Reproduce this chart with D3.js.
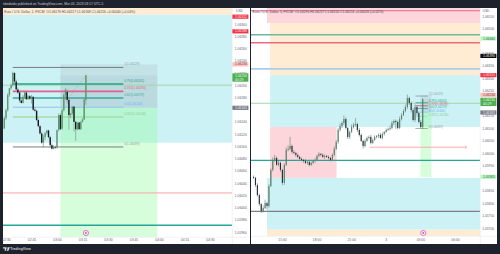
<!DOCTYPE html>
<html>
<head>
<meta charset="utf-8">
<script src="https://cdn.jsdelivr.net/npm/d3@7"></script>
<style>
  html, body { margin: 0; padding: 0; background: #1e222d; }
  svg { display: block; }
  text { font-family: "Liberation Sans", Arial, sans-serif; }
</style>
</head>
<body>
<svg id="chart" width="500" height="254"></svg>
<script>
// One-minute candles, EUR/USD
const minuteOpens = [1.06129,1.06146,1.06159,1.06184,1.06195,1.06200,1.06220,1.06206,1.06193,1.06188,1.06175,1.06171,1.06181,1.06188,1.06177,1.06182,1.06178,1.06181,1.06160,1.06158,1.06143,1.06133,1.06121,1.06106,1.06115,1.06122,1.06126,1.06115,1.06102,1.06096,1.06099,1.06098,1.06127,1.06151,1.06129,1.06159,1.06184,1.06189,1.06176,1.06151,1.06154,1.06165,1.06140,1.06128,1.06139,1.06128,1.06140,1.06144,1.06176];
const minuteHighs = [1.06149,1.06162,1.06187,1.06196,1.06203,1.06222,1.06221,1.06209,1.06196,1.06189,1.06177,1.06184,1.06189,1.06189,1.06184,1.06184,1.06184,1.06182,1.06164,1.06160,1.06146,1.06135,1.06124,1.06119,1.06124,1.06127,1.06127,1.06117,1.06105,1.06102,1.06101,1.06127,1.06154,1.06154,1.06162,1.06187,1.06195,1.06193,1.06178,1.06154,1.06166,1.06166,1.06142,1.06139,1.06140,1.06142,1.06146,1.06177,1.06217];
const minuteLows = [1.06129,1.06143,1.06157,1.06181,1.06192,1.06197,1.06203,1.06191,1.06186,1.06171,1.06170,1.06170,1.06178,1.06176,1.06176,1.06176,1.06170,1.06158,1.06157,1.06141,1.06131,1.06119,1.06104,1.06098,1.06110,1.06119,1.06113,1.06098,1.06095,1.06095,1.06096,1.06096,1.06124,1.06127,1.06127,1.06157,1.06176,1.06170,1.06127,1.06146,1.06151,1.06124,1.06109,1.06126,1.06127,1.06127,1.06139,1.06143,1.06168];
const minuteCloses = [1.06146,1.06159,1.06184,1.06195,1.06200,1.06220,1.06206,1.06193,1.06188,1.06175,1.06171,1.06181,1.06188,1.06177,1.06182,1.06178,1.06181,1.06160,1.06158,1.06143,1.06133,1.06121,1.06106,1.06115,1.06122,1.06126,1.06115,1.06102,1.06096,1.06099,1.06098,1.06127,1.06151,1.06128,1.06159,1.06184,1.06193,1.06176,1.06151,1.06154,1.06165,1.06140,1.06128,1.06139,1.06128,1.06140,1.06144,1.06177,1.06216];

// Intraday session closes with wick lengths in 0.00001 units
const sessionCloses = [1.05901,1.05872,1.05832,1.05796,1.05768,1.05780,1.05800,1.05788,1.05868,1.05933,
  1.05973,1.05981,1.05953,1.05961,1.05933,1.05881,1.05953,1.06013,1.06017,1.06029,
  1.06005,1.06001,1.05993,1.05985,1.05977,1.05973,1.05969,1.05961,1.05965,1.05953,
  1.05961,1.05969,1.05973,1.05989,1.05997,1.05993,1.05985,1.05989,1.05985,1.05981,
  1.05973,1.05993,1.06017,1.06045,1.06093,1.06109,1.06121,1.06137,1.06101,1.06065,
  1.06085,1.06105,1.06113,1.06117,1.06093,1.06073,1.06049,1.06029,1.06049,1.06061,
  1.06065,1.06041,1.06053,1.06065,1.06069,1.06073,1.06061,1.06077,1.06085,1.06093,
  1.06097,1.06101,1.06121,1.06129,1.06125,1.06101,1.06137,1.06153,1.06169,1.06185,
  1.06221,1.06201,1.06173,1.06133,1.06185,1.06161,1.06125,1.06105,1.06216];
const sessionFirstOpen = 1.05905;
const sessionUpperWicks = [6,4,8,6,4,10,14,6,8,6,10,12,6,8,6,4,6,10,14,36,6,8,4,6,4,6,4,8,4,6,6,4,8,6,8,4,6,6,4,6,4,6,10,8,8,10,6,14,6,4,6,10,8,24,6,8,6,4,8,6,6,8,6,6,4,6,8,6,4,6,6,10,8,6,6,6,10,8,6,10,14,6,6,8,10,6,6,8,4];
const sessionLowerWicks = [4,8,6,8,8,6,4,14,6,4,6,8,4,6,8,10,8,4,6,6,8,6,8,6,4,6,8,4,8,6,4,6,8,4,6,6,4,8,4,6,6,4,6,4,8,6,8,8,6,8,8,4,6,6,8,6,4,10,6,4,6,6,4,4,6,8,4,6,6,4,4,6,6,8,28,6,4,6,4,6,8,8,10,6,8,10,6,4,8];

// Fibonacci retracement
const fibRatios = ["1", "0.79", "0.705", "0.62", "0.5", "0.382", "0"];
const fibPrices = [1.06229, 1.06202, 1.06190, 1.06179, 1.06164, 1.06148, 1.06099];

// Horizontal levels per pane
const minuteLevels = [1.06200, 1.06024, 1.05971];
const sessionLevels = [1.06571, 1.06475, 1.06443, 1.06338, 1.06200, 1.05971, 1.05767];

// Axis ticks; labels sitting behind a price tag are left out
const minuteTicks = [1.06300,1.06280,1.06260,1.06240,1.06220,1.06200,1.06180,1.06140,1.06120,1.06100,1.06080,1.06060,1.06040,1.06020,1.06000,1.05980,1.05960];
const sessionTicks = [1.06550,1.06500,1.06400,1.06350,1.06300,1.06250,1.06150,1.06100,1.06050,1.06000,1.05950,1.05850,1.05800,1.05750,1.05700];
const minuteTimeTicks = ["02:30","02:45","03:00","03:15","03:30","03:45","04:00","04:15","04:30"];
const sessionTimeTicks = ["2023-03-02T15:00Z","2023-03-02T18:00Z","2023-03-02T21:00Z","2023-03-03T00:00Z","2023-03-03T03:00Z","2023-03-03T06:00Z"];

// Price tags on the axes
const minuteTags = [1.06312, 1.06288, 1.06234, 1.06163];
const sessionTags = [1.06460, 1.06390, 1.06313, 1.06234, 1.06163, 1.05905];
const lastClose = 1.06216;

const headerMinute = "Euro / U.S. Dollar, 1, FXCM  O1.06176 H1.06217 L1.06168 C1.06216 +0.00040 (+0.04%)";
const headerSession = "Euro / U.S. Dollar, 5, FXCM  O1.06190 H1.06217 L1.06150 C1.06216 +0.00026 (+0.02%)";
const publishLine = "tdotdotdo published on TradingView.com, Mar 03, 2023 03:17 UTC-5";

const svg = d3.select("#chart");
const DARK = "#1e222d", CYAN = "#cdf2f5", ORANGE = "#ffecd3", PINK = "#fcd6da";
const TEAL = "#26a69a", UP = "#5c9c6c", DOWN = "#131722", TICK = "#5f6370";

const day = s => new Date("2023-03-03T" + s + ":00Z");
const iso = s => new Date(s);
const fmt5 = d3.format(".5f");

const paneA = { x0: 3, x1: 232, axisEnd: 250, y0: 8, y1: 237, bottom: 244 };
const paneB = { x0: 251, x1: 480, axisEnd: 497, y0: 8, y1: 236, bottom: 244 };

const xA = d3.scaleUtc().domain([day("02:30"), day("04:30")]).range([6, 210]);
const yA = d3.scaleLinear().domain([1.0630, 1.0596]).range([24, 232]);
const xB = d3.scaleUtc().domain([iso("2023-03-02T15:00Z"), iso("2023-03-03T06:00Z")]).range([282, 455]);
const yB = d3.scaleLinear().domain([1.0655, 1.0570]).range([16, 228]);

svg.append("rect").attr("width", 500).attr("height", 254).attr("fill", DARK);

function buildPane(id, pane) {
  svg.append("rect").attr("x", pane.x0).attr("y", pane.y0)
    .attr("width", pane.axisEnd - pane.x0).attr("height", pane.bottom - pane.y0).attr("fill", "#fff");
  const clip = svg.append("clipPath").attr("id", id);
  clip.append("rect").attr("x", pane.x0).attr("y", pane.y0)
    .attr("width", pane.x1 - pane.x0).attr("height", pane.y1 - pane.y0);
  return svg.append("g").attr("clip-path", `url(#${id})`);
}
const plotA = buildPane("clipA", paneA);
const plotB = buildPane("clipB", paneB);

function band(g, pane, x, y, t0, t1, p0, p1, fill, opacity) {
  const left = t0 ? x(t0) : pane.x0;
  const right = t1 ? x(t1) : pane.x1;
  g.append("rect").attr("x", left).attr("width", right - left)
    .attr("y", y(p0)).attr("height", y(p1) - y(p0))
    .attr("fill", fill).attr("opacity", opacity === undefined ? 1 : opacity);
}

// Supply and demand zones
band(plotA, paneA, xA, yA, null, null, 1.06330, 1.06315, ORANGE);
band(plotA, paneA, xA, yA, null, null, 1.06315, 1.06106, CYAN);

const zoneStart = iso("2023-03-02T13:58Z"), zoneStartLow = iso("2023-03-02T13:42Z");
band(plotB, paneB, xB, yB, zoneStartLow, null, 1.06590, 1.06522, PINK);
band(plotB, paneB, xB, yB, zoneStart, null, 1.06522, 1.06313, ORANGE);
band(plotB, paneB, xB, yB, zoneStart, null, 1.06313, 1.06105, CYAN);
band(plotB, paneB, xB, yB, zoneStart, iso("2023-03-02T19:44Z"), 1.06105, 1.05901, PINK);
band(plotB, paneB, xB, yB, zoneStartLow, null, 1.05901, 1.05693, CYAN);
band(plotB, paneB, xB, yB, zoneStartLow, null, 1.05693, 1.05660, ORANGE);

// Position tool: profit area below the entry, shaded risk area above it
function positionBox(g, x, y, t0, t1) {
  band(g, null, x, y, t0, t1, 1.06163, 1.05905, "#8ffb9a", 0.36);
  band(g, null, x, y, t0, t1, 1.06234, 1.06163, "#787b86", 0.13);
  band(g, null, x, y, t0, t1, 1.06216, 1.06163, "#787b86", 0.08);
}
positionBox(plotA, xA, yA, day("03:02"), day("03:59"));
positionBox(plotB, xB, yB, day("03:00"), day("03:57"));

// Horizontal levels
const levelStylesA = [
  { c: "#a5d6a7", w: 1.0 }, { c: "#f9a8a8", w: 1.9, o: 0.6 }, { c: TEAL, w: 1.4 }
];
const levelStylesB = [
  { c: "#f0628e", w: 1.1 }, { c: "#6dbb9c", w: 1.6 }, { c: "#f0687f", w: 1.4 }, { c: "#a5cdec", w: 1.7 },
  { c: "#a5d6a7", w: 1.1 }, { c: TEAL, w: 1.2 }, { c: "#7e7f8a", w: 1.2 }
];
function drawLevels(g, pane, y, prices, styles) {
  g.selectAll(null).data(prices).join("line")
    .attr("x1", pane.x0).attr("x2", pane.x1)
    .attr("y1", d => y(d)).attr("y2", d => y(d))
    .attr("stroke", (d, i) => styles[i].c)
    .attr("stroke-width", (d, i) => styles[i].w)
    .attr("stroke-opacity", (d, i) => styles[i].o === undefined ? 1 : styles[i].o);
}
drawLevels(plotA, paneA, yA, minuteLevels, levelStylesA);
drawLevels(plotB, paneB, yB, sessionLevels, levelStylesB);

// Fibonacci lines and labels
const fibColors = ["#787b86", "#1fa584", "#e0608e", "#3aa89c", "#90c4ef", "#a8dca8", "#787b86"];
const fibWidths = [1.0, 1.4, 1.7, 1.3, 1.0, 1.4, 1.0];
const fibLabelColors = ["#9a9ca6", "#1f9c84", "#e05a80", "#3aa89c", "#64b5f6", "#8ccf90", "#9a9ca6"];
function drawFib(g, x, y, fontSize, width) {
  const t0 = day("02:34"), t1 = day("03:39");
  g.selectAll(null).data(fibPrices).join("line")
    .attr("x1", x(t0)).attr("x2", x(t1))
    .attr("y1", d => y(d)).attr("y2", d => y(d))
    .attr("stroke", (d, i) => fibColors[i])
    .attr("stroke-width", (d, i) => fibWidths[i] * width);
  g.selectAll(null).data(fibPrices).join("text")
    .attr("x", x(t1) + 0.9).attr("y", d => y(d) - (width < 1 ? 1.6 : 3))
    .attr("dy", "0.32em").attr("font-size", fontSize)
    .attr("fill", (d, i) => fibLabelColors[i])
    .text((d, i) => `${fibRatios[i]}(${fmt5(d)})`);
}
drawFib(plotA, xA, yA, 3.2, 1);
drawFib(plotB, xB, yB, 2.9, 0.6);

// Dotted trend from the retracement low to the last close
plotA.append("line")
  .attr("x1", xA(day("03:06"))).attr("y1", yA(1.06177))
  .attr("x2", xA(day("03:17"))).attr("y2", yA(1.06216))
  .attr("stroke", "#9598a1").attr("stroke-width", 0.6).attr("stroke-dasharray", "1 1");

// Forecast arrow on the session pane
const arrowY = yB(1.06024);
const arrowX0 = xB(iso("2023-03-02T22:36Z")), arrowX1 = xB(iso("2023-03-03T07:00Z"));
plotB.append("line").attr("x1", arrowX0).attr("x2", arrowX1)
  .attr("y1", arrowY).attr("y2", arrowY)
  .attr("stroke", "#f9a3a3").attr("stroke-width", 0.9);
plotB.append("path")
  .attr("d", d3.line()([[arrowX1 - 1.6, arrowY - 1.4], [arrowX1, arrowY], [arrowX1 - 1.6, arrowY + 1.4]]))
  .attr("fill", "none").attr("stroke", "#f9a3a3").attr("stroke-width", 0.8);

// Candles
function drawCandles(g, x, y, bars, bodyWidth, wickWidth, upColor, downColor, wickColor) {
  g.selectAll(null).data(bars).join("line")
    .attr("x1", d => x(d.t)).attr("x2", d => x(d.t))
    .attr("y1", d => y(d.h)).attr("y2", d => y(d.l))
    .attr("stroke", d => wickColor || (d.c >= d.o ? upColor : downColor))
    .attr("stroke-width", wickWidth);
  g.selectAll(null).data(bars).join("rect")
    .attr("x", d => x(d.t) - bodyWidth / 2).attr("width", bodyWidth)
    .attr("y", d => y(Math.max(d.o, d.c)))
    .attr("height", d => Math.max(0.6, Math.abs(y(d.o) - y(d.c))))
    .attr("fill", d => d.c >= d.o ? upColor : downColor);
}
const minuteBars = minuteCloses.map((c, i) => ({
  t: new Date(day("02:29").getTime() + i * 60000),
  o: minuteOpens[i], h: minuteHighs[i], l: minuteLows[i], c
}));
drawCandles(plotA, xA, yA, minuteBars, 1.4, 0.6, UP, DOWN, "#7a8a86");

const sessionEnd = day("03:12").getTime(), step = 600000;
const sessionBars = sessionCloses.map((c, i) => {
  const o = i ? sessionCloses[i - 1] : sessionFirstOpen;
  return {
    t: new Date(sessionEnd - (sessionCloses.length - 1 - i) * step),
    o, c,
    h: Math.max(o, c) + sessionUpperWicks[i] * 1e-5,
    l: Math.min(o, c) - sessionLowerWicks[i] * 1e-5
  };
});
drawCandles(plotB, xB, yB, sessionBars, 1.1, 0.6, "#55806a", "#222b33", "#6f7d7c");

// Event markers
function marker(x, y) {
  svg.append("circle").attr("cx", x).attr("cy", y).attr("r", 2.6)
    .attr("fill", "#fdf1f7").attr("stroke", "#e558a8").attr("stroke-width", 0.8);
  svg.append("circle").attr("cx", x).attr("cy", y).attr("r", 0.9).attr("fill", "#a45bc9");
}
marker(xA(day("03:17")), 233);
marker(xB(day("03:15")), 233);

// Pane frames
[paneA, paneB].forEach(p => {
  svg.append("line").attr("x1", p.x1 + 0.25).attr("x2", p.x1 + 0.25).attr("y1", p.y0).attr("y2", p.bottom)
    .attr("stroke", "#e0e3eb").attr("stroke-width", 0.5);
  svg.append("line").attr("x1", p.x0).attr("x2", p.axisEnd).attr("y1", p.y1 + 0.25).attr("y2", p.y1 + 0.25)
    .attr("stroke", "#e0e3eb").attr("stroke-width", 0.5);
});

// Axes
function styleAxis(g, size) {
  g.select(".domain").remove();
  g.selectAll(".tick line").remove();
  g.attr("font-family", null).attr("font-size", null);
  g.selectAll("text").attr("font-size", size).attr("fill", TICK);
}
svg.append("g").attr("transform", `translate(${paneA.x1},0)`)
  .call(d3.axisRight(yA).tickValues(minuteTicks).tickFormat(fmt5).tickSize(0).tickPadding(2.8))
  .call(g => styleAxis(g, 3.3));
svg.append("g").attr("transform", `translate(${paneB.x1},0)`)
  .call(d3.axisRight(yB).tickValues(sessionTicks).tickFormat(fmt5).tickSize(0).tickPadding(2.2))
  .call(g => styleAxis(g, 3.3));
svg.append("g").attr("transform", `translate(0,${paneA.y1})`)
  .call(d3.axisBottom(xA).tickValues(minuteTimeTicks.map(day)).tickFormat(d3.utcFormat("%H:%M")).tickSize(0).tickPadding(1.4))
  .call(g => styleAxis(g, 3.4));
svg.append("g").attr("transform", `translate(0,${paneB.y1})`)
  .call(d3.axisBottom(xB).tickValues(sessionTimeTicks.map(iso))
    .tickFormat(d => d.getUTCHours() === 0 ? String(d.getUTCDate()) : d3.utcFormat("%H:%M")(d))
    .tickSize(0).tickPadding(2.4))
  .call(g => styleAxis(g, 3.4));

svg.append("text").attr("x", 236).attr("y", 12.4).attr("font-size", 3.3).attr("fill", TICK).text("USD");
svg.append("text").attr("x", 482.5).attr("y", 12.4).attr("font-size", 3.3).attr("fill", TICK).text("USD");

// Axis price tags
function tag(x, yPos, text, fill, color, w) {
  svg.append("rect").attr("x", x).attr("y", yPos - 2.1).attr("width", w).attr("height", 4.2).attr("fill", fill);
  svg.append("text").attr("x", x + 2.6).attr("y", yPos).attr("dy", "0.34em")
    .attr("font-size", 3.3).attr("fill", color).text(text);
}
const tagStylesA = [["#f23645", "#ffe0e3"], ["#f23645", "#ffe0e3"], ["#f9c1bd", "#8a3a3a"], ["#787b86", "#f4f4f6"]];
minuteTags.forEach((p, i) => tag(paneA.x1 + 0.4, yA(p), fmt5(p), tagStylesA[i][0], tagStylesA[i][1], 16));
const tagStylesB = [["#bdf5c4", "#226a33"], ["#0c0c0c", "#f0f0f0"], ["#f23645", "#ffe0e3"], ["#f9c1bd", "#8a3a3a"], ["#787b86", "#f4f4f6"], ["#bdf5c4", "#226a33"]];
sessionTags.forEach((p, i) => tag(paneB.x1 + 0.4, yB(p), fmt5(p), tagStylesB[i][0], tagStylesB[i][1], 16));

// Last price with the bar countdown underneath
function lastTag(x, yTop) {
  svg.append("rect").attr("x", x).attr("y", yTop).attr("width", 16).attr("height", 8.4).attr("fill", "#4caf50");
  svg.append("text").attr("x", x + 2.6).attr("y", yTop + 2.4).attr("dy", "0.34em").attr("font-size", 3.3).attr("fill", "#eafbea").text(fmt5(lastClose));
  svg.append("text").attr("x", x + 2.6).attr("y", yTop + 6.2).attr("dy", "0.34em").attr("font-size", 3.3).attr("fill", "#eafbea").text("00:29");
}
lastTag(paneA.x1 + 0.4, 73.3);
lastTag(paneB.x1 + 0.4, 97.7);

// Legends and page furniture
svg.append("text").attr("x", 4.2).attr("y", 12.5).attr("font-size", 3.3).attr("fill", "#4a4d57").attr("xml:space", "preserve").text(headerMinute);
svg.append("text").attr("x", 252.6).attr("y", 12.5).attr("font-size", 3.3).attr("fill", "#4a4d57").attr("xml:space", "preserve").text(headerSession);
svg.append("text").attr("x", 3).attr("y", 5.4).attr("font-size", 3.3).attr("fill", "#c8cbd3").text(publishLine);

const logo = svg.append("g").attr("fill", "#d5d8df");
logo.append("path").attr("d", "M3 247.2h3.2v3.6h-1.4v-2.2h-1.8z");
logo.append("circle").attr("cx", 7).attr("cy", 248).attr("r", 0.7);
logo.append("path").attr("d", "M8.2 247.2h1.7l-1.5 3.6h-1.7z");
svg.append("text").attr("x", 10.2).attr("y", 250.3).attr("font-size", 3.5).attr("font-weight", 700).attr("fill", "#c8cbd3").text("TradingView");
</script>
</body>
</html>
